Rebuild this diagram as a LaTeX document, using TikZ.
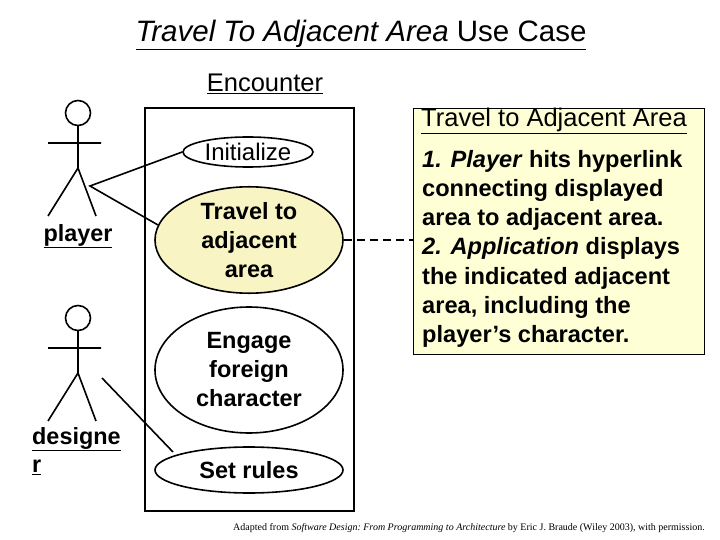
\documentclass[tikz,border=0pt]{standalone}
\usepackage{fontspec}
\setmainfont{Liberation Sans}
\setmonofont{Liberation Serif}
\usetikzlibrary{shapes.geometric}
\definecolor{noteyel}{HTML}{FFFFD6}
\definecolor{ucyel}{HTML}{F8F4C4}
\begin{document}
\begin{tikzpicture}[x=1pt,y=-1pt,
  thk/.style={line width=2.2pt},
  uc/.style={ellipse,draw,line width=1.6pt,inner sep=0pt,align=center,font=\fontsize{23.5}{29}\selectfont\bfseries},
  lbl/.style={font=\fontsize{23.4}{27}\selectfont\bfseries,inner sep=0pt}]
\useasboundingbox (0,0) rectangle (720,540);
\node[font=\fontsize{29.5}{32}\selectfont] (title) at (361,35) {\underline{\textit{Travel To Adjacent Area} Use Case}};
\node[lbl,font=\fontsize{25.5}{27}\selectfont] (enc) at (265,84) {\underline{Encounter}};
\draw[thk] (145,108) rectangle (354,511);
% actors
\foreach \n/\y in {a/113,b/318}{
  \draw[line width=1.6pt] (78,\y) circle (12.5);
  \draw[line width=1.6pt] (78,\y+12.5) -- (78,\y+55) (48,\y+30) -- (101,\y+30)
     (48,\y+103) -- (78,\y+55) -- (96,\y+103);
}
\coordinate (pa) at (90,186);
\coordinate (pb) at (102,378);
\node[lbl] (player) at (78,236) {\underline{player}};
\node[lbl,anchor=west] (des1) at (32,439) {\underline{designe}};
\node[lbl,anchor=west] (des2) at (32,467) {\underline{r}};
% use cases
\node[uc,minimum width=130,minimum height=30,font=\fontsize{24}{29}\selectfont] (init) at (248,152) {Initialize};
\node[uc,fill=ucyel,minimum width=188,minimum height=86] (trav) at (249,240) {Travel to\\adjacent\\area};
\node[uc,minimum width=188,minimum height=126] (eng) at (249,370) {Engage\\foreign\\character};
\node[uc,minimum width=188,minimum height=46] (set) at (249,470) {Set rules};
\coordinate (sp) at (173,452);
\coordinate (tp) at (158,225);
\draw[line width=1.6pt] (init.west) -- (pa) -- (tp);
\draw[line width=1.6pt] (pb) -- (sp);
% note
\node[draw,line width=1pt,fill=noteyel,minimum width=291,minimum height=246,anchor=north west] (note) at (413,108) {};
\node[lbl,anchor=west,font=\fontsize{25.5}{27}\selectfont] (nt) at (421,121) {\underline{Travel to Adjacent Area}};
\node[anchor=north west,inner sep=0pt,align=left,font=\fontsize{23.6}{29.2}\selectfont\bfseries] (body) at (422,150)
 {\textit{1. Player} hits hyperlink\\connecting displayed\\area to adjacent area.\\\textit{2. Application} displays\\the indicated adjacent\\area, including the\\player’s character.};
\draw[line width=1.6pt,dashed,dash pattern=on 8pt off 5pt] (trav.east) -- (note.west |- trav.east);
\node[font=\ttfamily\fontsize{10}{11}\selectfont] (foot) at (469,528) {Adapted from \textit{Software Design: From Programming to Architecture} by Eric J. Braude (Wiley 2003), with permission.};
\end{tikzpicture}
\end{document}
